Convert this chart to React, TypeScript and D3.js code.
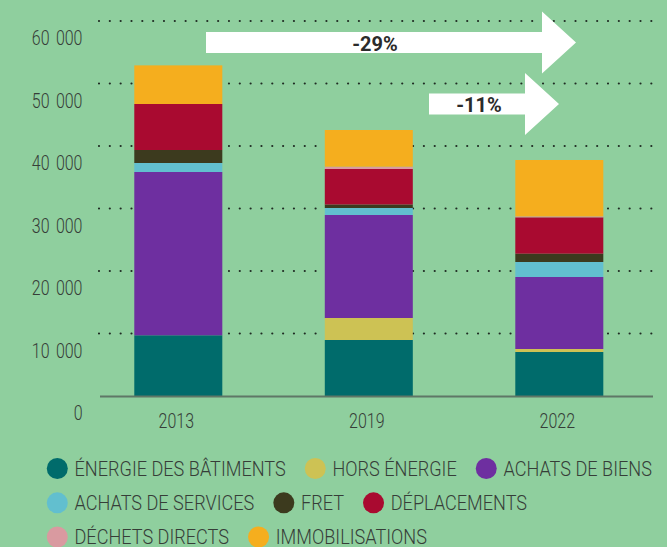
import React, { useEffect, useRef } from 'react';
import * as d3 from 'd3';

// --- Data ---
const years = ['2013', '2019', '2022'];
const categories = [
  'ÉNERGIE DES BÂTIMENTS', 'HORS ÉNERGIE', 'ACHATS DE BIENS', 'ACHATS DE SERVICES',
  'FRET', 'DÉPLACEMENTS', 'DÉCHETS DIRECTS', 'IMMOBILISATIONS'
];
const categoryColors = ['#006b6b', '#cdc254', '#6e2fa0', '#62bfcf', '#3c3a1e', '#a90a30', '#d99aa0', '#f5ae1e'];

const energieBatiments = [9710, 8960, 7040];
const horsEnergie = [0, 3520, 480];
const achatsBiens = [26130, 16480, 11520];
const achatsServices = [1440, 1120, 2400];
const fret = [2080, 560, 1330];
const deplacements = [7360, 5680, 5820];
const dechetsDirects = [0, 370, 150];
const immobilisations = [6180, 5870, 9020];

const yTicks = [0, 10000, 20000, 30000, 40000, 50000, 60000];
const legendRows = [[0, 1, 2], [3, 4, 5], [6, 7]];
const evolutions = [
  { label: '-29%', from: 206, bodyEnd: 542, tip: 576, cy: 42.5, textX: 375 },
  { label: '-11%', from: 429, bodyEnd: 525, tip: 559, cy: 104, textX: 479 }
];

const series = [energieBatiments, horsEnergie, achatsBiens, achatsServices, fret, deplacements, dechetsDirects, immobilisations];

const W = 667;
const H = 547;
const BG = '#8fcf9e';
const TEXT = '#363d38';
const FONT = 'Roboto, "Open Sans", sans-serif';

const fmt = d3.formatLocale({ decimal: ',', thousands: ' ', grouping: [3], currency: ['', ''] }).format(',d');

const App = () => {
  const ref = useRef<SVGSVGElement | null>(null);

  useEffect(() => {
    document.body.style.margin = '0';
    const svg = d3.select(ref.current);
    svg.selectAll('*').remove();

    svg.append('rect').attr('width', W).attr('height', H).attr('fill', BG);

    const x = d3.scaleBand().domain(years).range([100, 637.6]).paddingInner(0.538).paddingOuter(0.18);
    const y = d3.scaleLinear().domain([0, 60000]).range([396, 21]);

    // dotted grid
    svg.append('g').selectAll('line').data(yTicks.filter(d => d > 0)).enter().append('line')
      .attr('x1', 99).attr('x2', 653)
      .attr('y1', d => y(d)).attr('y2', d => y(d))
      .attr('stroke', '#1f2b23').attr('stroke-width', 2.2)
      .attr('stroke-linecap', 'round').attr('stroke-dasharray', '0 10.83');

    // tick labels (sit below their gridline)
    svg.append('g').selectAll('g').data(yTicks).enter().append('g')
      .attr('transform', d => `translate(82.5,${y(d) + 24}) scale(0.82,1)`)
      .append('text').attr('text-anchor', 'end')
      .style('font-family', FONT).style('font-size', '19.5px').style('font-weight', 300)
      .style('word-spacing', '3px')
      .attr('fill', TEXT).text(d => fmt(d));

    // stacked bars
    const table = years.map((yr, i) => {
      const row: any = { year: yr };
      categories.forEach((c, k) => { row[c] = series[k][i]; });
      return row;
    });
    const stacked = d3.stack().keys(categories)(table);
    const layers = svg.append('g').selectAll('g').data(stacked).enter().append('g')
      .attr('fill', (d, i) => categoryColors[i]);
    layers.selectAll('rect').data(d => d).enter().append('rect')
      .attr('x', d => x(d.data.year as string) as number)
      .attr('width', x.bandwidth())
      .attr('y', d => y(d[1]))
      .attr('height', d => Math.max(0, y(d[0]) - y(d[1])));

    // axis line
    svg.append('line').attr('x1', 100).attr('x2', 653).attr('y1', y(0) + 0.5).attr('y2', y(0) + 0.5)
      .attr('stroke', '#5f7766').attr('stroke-width', 2);

    // year labels
    svg.append('g').selectAll('g').data(years).enter().append('g')
      .attr('transform', d => `translate(${(x(d) as number) + x.bandwidth() / 2 - 2},428) scale(0.82,1)`)
      .append('text').attr('text-anchor', 'middle')
      .style('font-family', FONT).style('font-size', '19.5px').style('font-weight', 300)
      .attr('fill', TEXT).text(d => d);

    // evolution arrows
    const arrows = svg.append('g').selectAll('g').data(evolutions).enter().append('g');
    arrows.append('polygon')
      .attr('fill', '#ffffff')
      .attr('points', d => [
        [d.from, d.cy - 10.5], [d.bodyEnd, d.cy - 10.5], [d.bodyEnd, d.cy - 31],
        [d.tip, d.cy], [d.bodyEnd, d.cy + 31], [d.bodyEnd, d.cy + 10.5], [d.from, d.cy + 10.5]
      ].map(p => p.join(',')).join(' '));
    arrows.append('g').attr('transform', d => `translate(${d.textX},${d.cy + 8}) scale(0.95,1)`)
      .append('text').attr('text-anchor', 'middle')
      .style('font-family', FONT).style('font-size', '21px').style('font-weight', 'bold')
      .attr('fill', '#2b2b2b').text(d => d.label);

    // legend (last row is cut by the bottom edge, as in the source)
    const legend = svg.append('g');
    const rowY = [468.5, 502.8, 537];
    legendRows.forEach((row, r) => {
      let cx = 46.8;
      row.forEach(k => {
        const item = legend.append('g');
        item.append('circle').attr('cx', cx + 10.5).attr('cy', rowY[r]).attr('r', 10.5).attr('fill', categoryColors[k]);
        const t = item.append('g').attr('transform', `translate(${cx + 27.7},${rowY[r] + 7.2}) scale(0.93,1)`)
          .append('text')
          .style('font-family', FONT).style('font-size', '19.5px').style('font-weight', 300)
          .attr('fill', TEXT).text(categories[k]);
        const w = (t.node() as SVGTextElement).getComputedTextLength() * 0.93;
        cx += 27.7 + w + 19;
      });
    });
  }, []);

  return <svg ref={ref} width={W} height={H} style={{ display: 'block' }} />;
};

export default App;
